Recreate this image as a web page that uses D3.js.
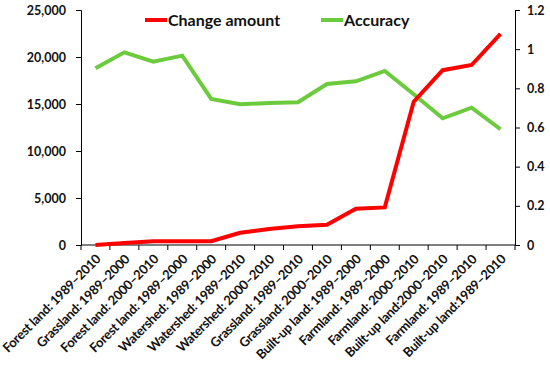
<!DOCTYPE html>
<html>
<head>
<meta charset="utf-8">
<script src="https://cdn.jsdelivr.net/npm/d3@7"></script>
<style>
  body { margin: 0; background: #fff; }
  svg text { font-family: Lato, 'Open Sans', sans-serif; font-weight: bold; fill: #111; }
</style>
</head>
<body>
<div id="chart"></div>
<script>
const categories = [
  'Forest land: 1989–2010', 'Grassland: 1989–2000', 'Forest land: 2000–2010',
  'Forest land: 1989–2000', 'Watershed: 1989–2000', 'Watershed: 1989–2010',
  'Watershed: 2000–2010', 'Grassland: 1989–2010', 'Grassland: 2000–2010',
  'Built-up land: 1989–2000', 'Farmland: 1989–2000', 'Farmland: 2000–2010',
  'Built-up land:2000–2010', 'Farmland: 1989–2010', 'Built-up land:1989–2010'
]
const changeAmount = [0, 200, 400, 400, 400, 1300, 1700, 2000, 2150, 3850, 4000, 15250, 18600, 19150, 22450]
const accuracy = [0.902, 0.984, 0.936, 0.967, 0.746, 0.719, 0.725, 0.729, 0.822, 0.836, 0.889, 0.77, 0.647, 0.701, 0.591]
const leftTicks = [0, 5000, 10000, 15000, 20000, 25000]
const rightTicks = [0, 0.2, 0.4, 0.6, 0.8, 1, 1.2]

const width = 550
const height = 365
const margin = { top: 10, right: 35, bottom: 120, left: 81 }

const svg = d3.select('#chart').append('svg')
  .attr('width', width)
  .attr('height', height)

const x = d3.scaleBand()
  .domain(categories)
  .range([margin.left, width - margin.right])

const yLeft = d3.scaleLinear()
  .domain([0, 25000])
  .range([height - margin.bottom - 0, margin.top])

const yRight = d3.scaleLinear()
  .domain([0, 1.2])
  .range([height - margin.bottom, margin.top])

// left axis
const gl = svg.append('g')
  .attr('transform', `translate(${margin.left},0)`)
  .call(d3.axisLeft(yLeft).tickValues(leftTicks).tickSize(5).tickPadding(10).tickFormat(d3.format(',')))
gl.selectAll('text').style('font-size', '12.5px')

// right axis
const gr = svg.append('g')
  .attr('transform', `translate(${width - margin.right},0)`)
  .call(d3.axisRight(yRight).tickValues(rightTicks).tickSize(5).tickPadding(7).tickFormat(d => d))
gr.selectAll('text').style('font-size', '12.5px')

// bottom axis with ticks at category boundaries
const gb = svg.append('g')
  .attr('transform', `translate(0,${height - margin.bottom})`)
gb.append('line')
  .attr('x1', margin.left).attr('x2', width - margin.right)
  .attr('stroke', '#000')
gb.selectAll('.btick')
  .data(categories.concat(['end']))
  .join('line')
  .attr('class', 'btick')
  .attr('x1', (d, i) => i < categories.length ? x(d) : x.range()[1])
  .attr('x2', (d, i) => i < categories.length ? x(d) : x.range()[1])
  .attr('y1', 0).attr('y2', 5)
  .attr('stroke', '#000')
gb.selectAll('.blabel')
  .data(categories)
  .join('text')
  .attr('class', 'blabel')
  .attr('text-anchor', 'end')
  .style('font-size', '13px')
  .style('letter-spacing', '-0.3px')
  .attr('transform', d => `translate(${x(d) + x.bandwidth() / 2 + 6},${15}) rotate(-45)`)
  .text(d => d)

svg.selectAll('.domain').attr('stroke', '#000')
svg.selectAll('.tick line').attr('stroke', '#000')

const lineLeft = d3.line()
  .x((d, i) => x(categories[i]) + x.bandwidth() / 2)
  .y(d => yLeft(d))
const lineRight = d3.line()
  .x((d, i) => x(categories[i]) + x.bandwidth() / 2)
  .y(d => yRight(d))

svg.append('path')
  .datum(accuracy)
  .attr('d', lineRight)
  .attr('fill', 'none')
  .attr('stroke', '#6ccb3c')
  .attr('stroke-width', 4)

svg.append('path')
  .datum(changeAmount)
  .attr('d', lineLeft)
  .attr('fill', 'none')
  .attr('stroke', '#ff0000')
  .attr('stroke-width', 4)

// legend
const legend = [
  { name: 'Change amount', color: '#ff0000', x: 145 },
  { name: 'Accuracy', color: '#6ccb3c', x: 321 }
]
const lg = svg.selectAll('.legend')
  .data(legend)
  .join('g')
  .attr('class', 'legend')
  .attr('transform', d => `translate(${d.x},20)`)
lg.append('line')
  .attr('x1', 0).attr('x2', 22)
  .attr('stroke', d => d.color)
  .attr('stroke-width', 4)
lg.append('text')
  .attr('x', 23)
  .attr('dy', '0.35em')
  .style('font-size', '16px')
  .text(d => d.name)
</script>
</body>
</html>
